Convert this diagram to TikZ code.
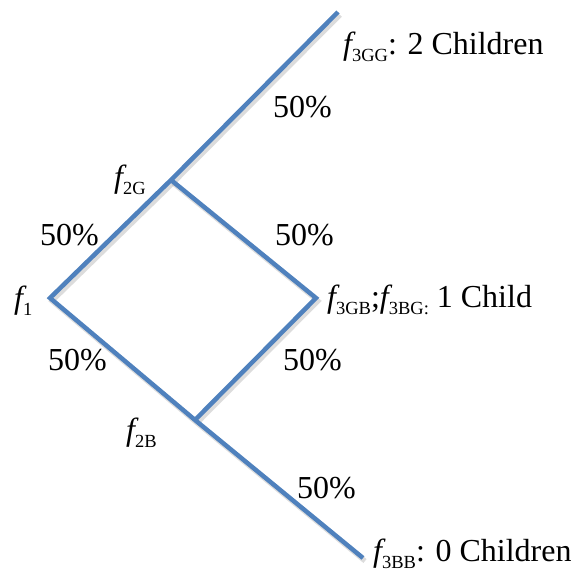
\documentclass[tikz,border=0pt]{standalone}
\usepackage{fontspec}
\setmainfont{Liberation Serif}
\newfontfamily\treefont{Liberation Serif}
\definecolor{branchblue}{RGB}{79,129,189}
\newcommand{\fsub}[1]{{\itshape f}\raisebox{-0.22em}{\fontsize{18.5}{19}\selectfont #1}}
\tikzset{
  branch/.style={
    draw=branchblue,
    line width=4.5pt
  },
  branchshadow/.style={
    draw=black!30,
    line width=5pt,
    opacity=0.45,
    transform canvas={shift={(2pt,-3pt)}}
  },
  lbl/.style={
    anchor=base west,
    inner sep=0pt
  },
  every picture/.style = {
    x=1pt, y=-1pt,
    font=\treefont\fontsize{32}{38}\selectfont
  }
}
\begin{document}
\begin{tikzpicture}
    \useasboundingbox (0,0) rectangle (574,571);
    \coordinate (f1) at (50,298);
    \coordinate (f2G) at (171,180);
    \coordinate (f2B) at (195,420);
    \coordinate (f3GG) at (338,12);
    \coordinate (f3GB) at (316,298);
    \coordinate (f3BB) at (363,558);
    \foreach \s in {branchshadow,branch}{
        \draw[\s] (f3GG) -- (f2G) -- (f1) -- (f2B) -- (f3BB);
        \draw[\s] (f2G) -- (f3GB) -- (f2B);
    }
    % labels of the nodes
    \node[lbl] (l1) at (14,308) {\fsub{1}};
    \node[lbl] (l2G) at (114,187) {\fsub{2G}};
    \node[lbl] (l2B) at (126,440) {\fsub{2B}};
    \node[lbl] (l3GG) at (343,54) {\fsub{3GG}: 2 Children};
    \node[lbl] (l3GB) at (327,307) {\fsub{3GB};\fsub{3BG:} 1 Child};
    \node[lbl] (l3BB) at (373,561) {\fsub{3BB}: 0 Children};
    % probabilities
    \foreach \px/\py [count=\i] in {273/117,40/245,275/245,48/370,283/370,297/498}
        \node[lbl] (p\i) at (\px,\py) {50\%};
\end{tikzpicture}
\end{document}
